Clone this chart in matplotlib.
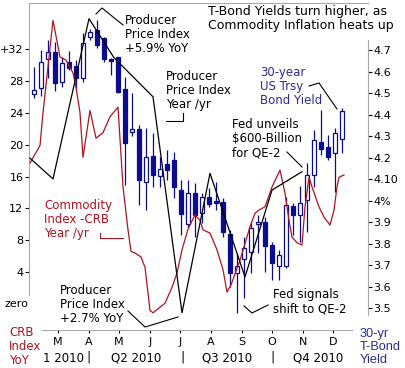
import matplotlib
matplotlib.use('Agg')
import matplotlib.pyplot as plt
import matplotlib.dates as mdates
from matplotlib.lines import Line2D
import pandas as pd

# weekly 30-yr T-bond yield candles (Friday weeks)
week_start = '2010-02-05'
y_open = [4.495, 4.523, 4.658, 4.690, 4.551, 4.644, 4.626, 4.570, 4.760, 4.793,
          4.756, 4.653, 4.667, 4.519, 4.319, 4.333, 4.086, 4.207, 4.114, 4.170,
          4.188, 4.049, 3.891, 4.035, 3.942, 4.016, 3.998, 3.993, 3.844, 3.663,
          3.728, 3.760, 3.891, 3.900, 3.793, 3.695, 3.695, 3.974, 3.933, 4.002,
          4.119, 4.272, 4.249, 4.221, 4.286]
y_high = [4.621, 4.700, 4.747, 4.737, 4.667, 4.695, 4.653, 4.779, 4.800, 4.840,
          4.760, 4.663, 4.670, 4.574, 4.500, 4.351, 4.337, 4.314, 4.202, 4.235,
          4.226, 4.095, 4.095, 4.081, 4.035, 4.058, 4.086, 4.012, 3.863, 3.756,
          3.830, 3.900, 3.933, 3.923, 3.807, 3.770, 4.016, 3.988, 4.067, 4.174,
          4.328, 4.421, 4.305, 4.337, 4.430]
y_low = [4.477, 4.486, 4.570, 4.510, 4.528, 4.607, 4.523, 4.551, 4.747, 4.709,
         4.644, 4.584, 4.500, 4.072, 4.300, 3.979, 3.956, 4.063, 4.063, 4.095,
         4.012, 3.840, 3.877, 3.830, 3.895, 3.970, 3.956, 3.830, 3.598, 3.477,
         3.547, 3.663, 3.756, 3.667, 3.630, 3.630, 3.686, 3.840, 3.807, 3.853,
         4.063, 4.212, 4.188, 4.040, 4.221]
y_close = [4.514, 4.644, 4.690, 4.547, 4.640, 4.616, 4.570, 4.733, 4.784, 4.723,
           4.658, 4.649, 4.505, 4.267, 4.333, 4.095, 4.202, 4.119, 4.147, 4.142,
           4.063, 3.937, 4.035, 3.933, 4.016, 3.984, 3.988, 3.853, 3.663, 3.695,
           3.779, 3.872, 3.900, 3.788, 3.709, 3.747, 3.979, 3.933, 3.988, 4.119,
           4.281, 4.240, 4.202, 4.314, 4.416]

# CRB index year/year %, day of year 2010
crb_day = [31, 41, 44, 54, 61, 67, 74, 77, 81, 84, 91, 97, 104, 111, 119, 124, 129,
           132, 136, 142, 146, 151, 154, 166, 173, 178, 183, 189, 196, 201, 204, 211,
           218, 224, 228, 232, 241, 251, 256, 260, 266, 273, 281, 286, 290, 293, 298,
           303, 306, 310, 313, 320, 325, 331, 335, 338, 340, 345]
crb_yoy = [17.7, 19.9, 24.0, 35.6, 31.0, 30.6, 29.0, 27.2, 24.0, 18.4, 24.3, 20.8,
           21.5, 23.5, 24.7, 14.7, 9.3, 6.6, 6.4, 5.9, 4.6, -0.8, -1.1, 0.1, 2.1, 3.9,
           6.8, 9.4, 11.2, 10.5, 9.3, 8.9, 6.8, 4.3, 1.5, 2.4, 5.5, 9.7, 11.4, 11.8,
           12.2, 14.7, 16.8, 13.9, 10.5, 8.4, 7.7, 7.4, 12.2, 15.9, 14.7, 12.2, 10.9,
           9.9, 11.8, 14.7, 15.9, 16.2]

# producer price index year/year (plotted on the CRB scale)
ppi_day = [31, 54, 90, 115, 154, 183, 211, 246, 273, 303]
ppi_yoy = [18.3, 15.7, 35.8, 30.9, 26.0, -1.1, 16.4, 3.4, 14.3, 16.6]

month_lbl = ['M', 'A', 'M', 'J', 'J', 'A', 'S', 'O', 'N', 'D']
yield_ticks = [3.5, 3.6, 3.7, 3.8, 3.9, 4.0, 4.1, 4.2, 4.3, 4.4, 4.5, 4.6, 4.7]
yield_lbl = ['3.5', '3.6', '3.7', '3.8', '3.9', '4%', '4.10', '4.2', '4.3', '4.4',
             '4.5', '4.6', '4.7']
crb_ticks = [4, 8, 12, 16, 20, 24, 28, 32]
crb_lbl = ['4', '8', '12', '16', '20', '24', '28', '+32']

NAVY = '#0c0c8e'
RED = '#b3121e'
BLUE_TXT = '#2b2b9c'
GRAY = '#a8a8a8'
W, H = 405, 368

base = pd.Timestamp('2010-01-01')
weeks = pd.date_range(week_start, periods=len(y_open), freq='7D')
crb_dates = base + pd.to_timedelta(crb_day, unit='D')
ppi_dates = base + pd.to_timedelta(ppi_day, unit='D')

fig = plt.figure(figsize=(W / 100, H / 100), dpi=100)
ax = fig.add_axes([29 / W, 38 / H, 339 / W, 327 / H])
ax2 = ax.twinx()

# candles on the yield axis
for d, o, hi, lo, c in zip(weeks, y_open, y_high, y_low, y_close):
    ax.vlines(d, lo, hi, color=NAVY, lw=0.9, zorder=2)
    up = c >= o
    ax.bar(d, abs(c - o) if abs(c - o) > 0.008 else 0.008, bottom=min(o, c), width=4.8,
           facecolor='white' if up else NAVY, edgecolor=NAVY, lw=0.9, zorder=3)

ax.set_ylim(3.398, 4.919)
ax.yaxis.tick_right()
ax.yaxis.set_label_position('right')
ax.set_yticks(yield_ticks)
ax.set_yticklabels(yield_lbl)

ax2.plot(crb_dates, crb_yoy, color=RED, lw=0.9, zorder=4)
ax2.plot(ppi_dates, ppi_yoy, color='black', lw=0.9, zorder=4)
ax2.set_ylim(-3.26, 37.77)
ax2.yaxis.tick_left()
ax2.set_yticks(crb_ticks)
ax2.set_yticklabels(crb_lbl)

ax.set_xlim(pd.Timestamp('2010-01-31'), pd.Timestamp('2011-01-05'))
months = pd.date_range('2010-03-01', periods=10, freq='MS')
ax.set_xticks(months)
ax.set_xticklabels(month_lbl)

for a in (ax, ax2):
    a.patch.set_visible(False)
    for s in a.spines.values():
        s.set_visible(False)
    a.tick_params(labelsize=8, colors='black', length=3, width=0.8)
ax.tick_params(axis='y', colors='black', pad=1)
ax2.tick_params(axis='y', pad=1)
ax.tick_params(axis='x', length=2, pad=3)

ax2.spines['left'].set_visible(True)
ax2.spines['left'].set_bounds(1.1, 37.77)
ax.spines['right'].set_visible(True)
ax.spines['right'].set_bounds(3.467, 4.747)
ax.spines['top'].set_visible(True)
ax.spines['bottom'].set_visible(True)
ax.spines['bottom'].set_bounds(mdates.date2num(pd.Timestamp('2010-02-13')),
                               mdates.date2num(pd.Timestamp('2010-12-20')))
for s in ax.spines.values():
    s.set_color(GRAY)
ax2.spines['left'].set_color(GRAY)


def px(x, y):
    return x / W, 1 - y / H


def note(x, y, s, color='black', size=8.5, family='DejaVu Sans'):
    fig.text(*px(x, y), s, color=color, fontsize=size, ha='left', va='top', linespacing=1.1,
             family=family)


def pointer(pts, color='black'):
    xs = [p[0] / W for p in pts]
    ys = [1 - p[1] / H for p in pts]
    fig.add_artist(Line2D(xs, ys, color=color, lw=0.8))


note(208, 5, 'T-Bond Yields turn higher, as\nCommodity Inflation heats up', size=9)
note(125, 14, 'Producer\nPrice Index\n+5.9% YoY')
note(166, 70, 'Producer\nPrice Index\nYear /yr')
note(260, 66, '30-year\nUS Trsy\nBond Yield', color=BLUE_TXT)
note(232, 118, 'Fed unveils\n$600-Billion\nfor QE-2')
note(44, 199, 'Commodity\nIndex -CRB\nYear /yr', color=RED)
note(60, 284, 'Producer\nPrice Index\n+2.7% YoY')
note(273, 288, 'Fed signals\nshift to QE-2')
note(9, 326, 'CRB\nIndex\nYoY', color=RED)
note(360, 328, '30-yr\nT-Bond\nYield', color=BLUE_TXT, size=9.2, family='Liberation Sans')
fig.text(*px(16, 304), 'zero', fontsize=8, ha='center', va='center')

pointer([(123, 25), (102, 8), (96, 14)])
pointer([(166, 121), (183, 121), (183, 113)])
pointer([(309, 86), (319, 83), (337, 109)], color='black')
pointer([(287, 152), (302, 167)])
pointer([(100, 233), (100, 238), (123, 238)], color=RED)
pointer([(128, 311), (145, 327), (178, 317)])
pointer([(244, 306), (252, 313), (268, 305)])

# quarter row
for x, s in [(84, '1 2010'), (136, 'Q2 2010'), (227, 'Q3 2010'), (318, 'Q4 2010')]:
    fig.text(*px(x, 358), s, fontsize=8.5, ha='right' if s == '1 2010' else 'center', va='center')
for x in (89, 182, 273):
    fig.text(*px(x, 357), '|', fontsize=9, ha='center', va='center')

fig.savefig('out.png', dpi=100)
